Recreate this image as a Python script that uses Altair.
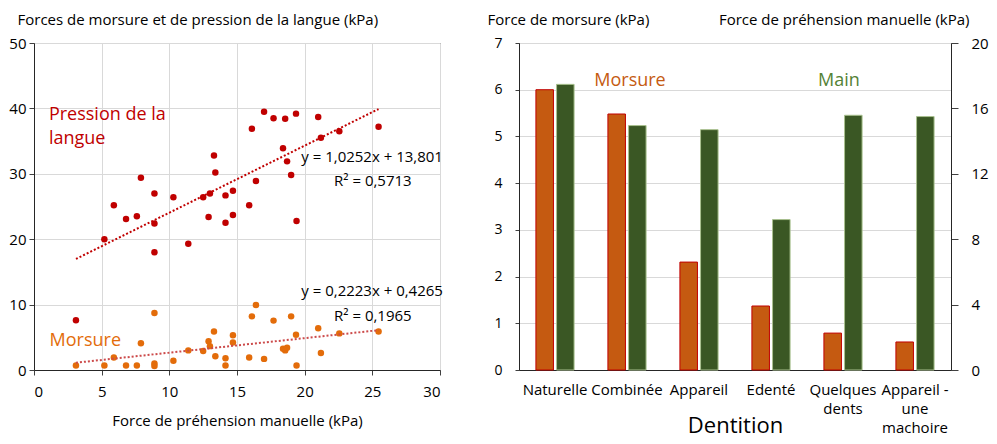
import altair as alt
import pandas as pd

FONT = "Open Sans"

# ---------------- Left chart data (scatter) ----------------
grip = [3.1, 5.2, 5.9, 6.8, 7.6, 7.9, 8.9, 8.9, 8.9, 10.3,
        11.4, 12.5, 12.9, 13.0, 13.3, 13.4, 14.15, 14.15, 14.7, 14.7,
        15.9, 16.1, 16.4, 17.0, 17.7, 18.4, 18.56, 18.7, 19.0, 19.36,
        19.4, 21.0, 21.2, 22.56, 25.46]
langue = [7.6, 20.0, 25.2, 23.1, 23.5, 29.4, 27.0, 22.4, 18.0, 26.4,
          19.3, 26.4, 23.4, 27.0, 32.8, 30.2, 22.5, 26.7, 27.4, 23.7,
          25.2, 36.9, 28.9, 39.5, 38.5, 33.9, 38.4, 31.9, 29.8, 39.2,
          22.8, 38.7, 35.5, 36.5, 37.2]
morsure_pts = [0.7, 0.7, 1.9, 0.7, 0.7, 4.1, 8.7, 1.0, 0.6, 1.4,
               3.0, 2.9, 4.4, 3.65, 5.9, 2.1, 1.8, 0.7, 5.3, 4.2,
               1.9, 8.2, 9.95, 1.7, 7.55, 3.25, 3.0, 3.4, 8.2, 5.4,
               0.7, 6.4, 2.6, 5.6, 5.9]

# Trend lines as displayed: y = a x + b
trend_series = ["langue", "morsure"]
trend_slope = [1.0252, 0.2223]
trend_icpt = [13.801, 0.4265]
trend_xrange = [3.1, 25.46]

# ---------------- Right chart data (bars) ----------------
categories = ["Naturelle", "Combinée", "Appareil", "Edenté",
              "Quelques dents", "Appareil - une machoire"]
morsure_bar = [6.0, 5.48, 2.31, 1.37, 0.79, 0.60]
main_bar = [17.47, 14.95, 14.7, 9.2, 15.58, 15.5]

W1, W2, H = 406, 432, 327

RED = "#C00000"
ORANGE = "#E36C0A"
BAR_OR = "#C55A11"
GREEN = "#3A5724"
TXT_GREEN = "#548235"

# ---------- left ----------
sc_x = alt.Scale(domain=[0, 30], nice=False)
sc_y = alt.Scale(domain=[0, 50], nice=False)

x_ax = alt.Axis(values=list(range(0, 31, 5)), title="Force de préhension manuelle (kPa)",
                titleY=55, titleBaseline="alphabetic", titleFontSize=15,
                tickSize=5, labelPadding=9, labelFontSize=15, grid=True)
y_ax = alt.Axis(values=list(range(0, 51, 10)),
                title="Forces de morsure et de pression de la langue (kPa)",
                titleAngle=0, titleAlign="left", titleBaseline="alphabetic",
                titleX=-17, titleY=-19, titleFontSize=15,
                tickSize=5, labelPadding=3, labelFontSize=15, grid=True)

df_l = pd.DataFrame({"x": grip, "y": langue})
df_m = pd.DataFrame({"x": grip, "y": morsure_pts})

pts_l = alt.Chart(df_l).mark_circle(size=42, opacity=1, color=RED).encode(
    x=alt.X("x:Q", scale=sc_x, axis=x_ax), y=alt.Y("y:Q", scale=sc_y, axis=y_ax))
pts_m = alt.Chart(df_m).mark_circle(size=42, opacity=1, color=ORANGE).encode(
    x=alt.X("x:Q", scale=sc_x, axis=x_ax), y=alt.Y("y:Q", scale=sc_y, axis=y_ax))

rows = []
for s, a, b in zip(trend_series, trend_slope, trend_icpt):
    for xv in trend_xrange:
        rows.append({"serie": s, "x": xv, "y": a * xv + b})
df_t = pd.DataFrame(rows)

tr_l = alt.Chart(df_t).transform_filter("datum.serie == 'langue'").mark_line(
    color=RED, strokeWidth=2, strokeDash=[2, 2]).encode(
    x=alt.X("x:Q", scale=sc_x, axis=x_ax), y=alt.Y("y:Q", scale=sc_y, axis=y_ax))
tr_m = alt.Chart(df_t).transform_filter("datum.serie == 'morsure'").mark_line(
    color="#CC4A4A", strokeWidth=2, strokeDash=[2, 2]).encode(
    x=alt.X("x:Q", scale=sc_x, axis=x_ax), y=alt.Y("y:Q", scale=sc_y, axis=y_ax))


def note(text, x, y, color, size, align="left"):
    return alt.Chart(pd.DataFrame({"t": [text]})).mark_text(
        align=align, baseline="alphabetic", font=FONT, fontSize=size, color=color
    ).encode(x=alt.datum(x, scale=sc_x), y=alt.datum(y, scale=sc_y), text="t:N")


notes_left = [
    note("Pression de la", 1.1, 38.2, RED, 18),
    note("langue", 1.1, 34.6, RED, 18),
    note("Morsure", 1.15, 3.65, ORANGE, 18),
    note("y = 1,0252x + 13,801", 19.75, 31.8, "black", 15),
    note("R² = 0,5713", 22.17, 28.1, "black", 15),
    note("y = 0,2223x + 0,4265", 19.75, 11.27, "black", 15),
    note("R² = 0,1965", 22.17, 7.55, "black", 15),
]

left = alt.layer(pts_l, pts_m, tr_l, tr_m, *notes_left).properties(width=W1, height=H)

# ---------- right ----------
df_bm = pd.DataFrame({"cat": categories, "serie": ["Morsure"] * 6, "val": morsure_bar})
df_bg = pd.DataFrame({"cat": categories, "serie": ["Main"] * 6, "val": main_bar})

x_cat_scale = alt.Scale(domain=categories, paddingInner=0.47, paddingOuter=0.235)
x_cat_axis = alt.Axis(
    title="Dentition", labelAngle=0, ticks=False, labelPadding=12, labelFontSize=15,
    labelLineHeight=19,
    labelExpr="datum.label == 'Appareil - une machoire' ? ['Appareil -', 'une', 'machoire'] : split(datum.label, ' ')",
    titleFontSize=22, titleY=62, titleBaseline="alphabetic", grid=False)
xo = alt.XOffset("serie:N", scale=alt.Scale(domain=["Morsure", "Main"], paddingInner=0.15, paddingOuter=0))

bars_m = alt.Chart(df_bm).mark_bar(color=BAR_OR, stroke=RED, strokeWidth=1).encode(
    x=alt.X("cat:N", scale=x_cat_scale, axis=x_cat_axis, sort=categories),
    xOffset=xo,
    y=alt.Y("val:Q", scale=alt.Scale(domain=[0, 7], nice=False),
            axis=alt.Axis(values=list(range(0, 8)), title="Force de morsure (kPa)",
                          titleAngle=0, titleAlign="left", titleBaseline="alphabetic",
                          titleX=-32, titleY=-19, titleFontSize=15,
                          tickSize=4, labelPadding=13, labelFontSize=14, grid=True)))
bars_g = alt.Chart(df_bg).mark_bar(color=GREEN, stroke="#A9C18F", strokeWidth=1).encode(
    x=alt.X("cat:N", scale=x_cat_scale, axis=x_cat_axis, sort=categories),
    xOffset=xo,
    y=alt.Y("val:Q", scale=alt.Scale(domain=[0, 20], nice=False),
            axis=alt.Axis(orient="right", values=list(range(0, 21, 4)),
                          title="Force de préhension manuelle (kPa)",
                          titleAngle=0, titleAlign="right", titleBaseline="alphabetic",
                          titleX=18, titleY=-19, titleFontSize=15,
                          tickSize=7, labelPadding=13, labelFontSize=15, grid=False)))

sc_r = alt.Scale(domain=[0, 7], nice=False)


def note_r(text, cat, y, color, dx=0):
    return alt.Chart(pd.DataFrame({"t": [text]})).mark_text(
        align="center", baseline="alphabetic", font=FONT, fontSize=18, color=color, dx=dx
    ).encode(x=alt.X("cat:N", scale=x_cat_scale, axis=x_cat_axis, sort=categories),
             y=alt.datum(y, scale=sc_r, axis=None), text="t:N").transform_calculate(cat="'" + cat + "'")


txt_m = note_r("Morsure", "Combinée", 6.07, BAR_OR, 3)
txt_g = note_r("Main", "Quelques dents", 6.07, TXT_GREEN, -4)

right = alt.layer(bars_m, bars_g, txt_m, txt_g).resolve_scale(y="independent").properties(width=W2, height=H)

chart = alt.hconcat(left, right, spacing=42).properties(
    padding={"left": 0, "top": 3, "right": 0, "bottom": 0}
).configure_view(stroke="#404040", strokeWidth=1).configure_axis(
    labelFont=FONT, titleFont=FONT, labelColor="black", titleColor="black",
    titleFontWeight="normal", domainColor="#262626", tickColor="#404040",
    gridColor="#D9D9D9", gridWidth=1
)

chart.save("out.html", embed_options={"renderer": "svg", "actions": False})
